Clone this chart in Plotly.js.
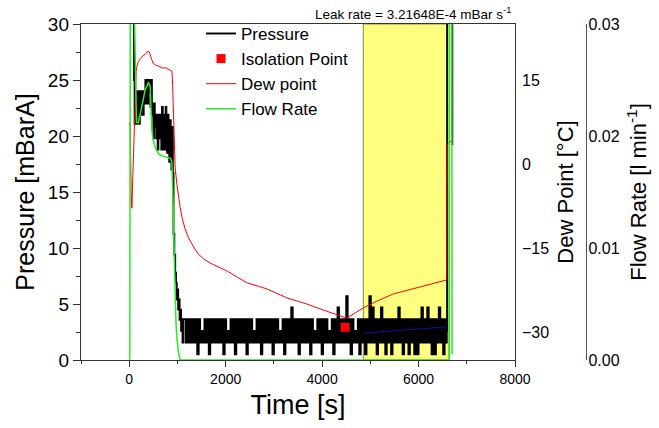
<!DOCTYPE html>
<html>
<head>
<meta charset="utf-8">
<script src="https://cdn.plot.ly/plotly-3.0.1.min.js"></script>
<style>html,body{margin:0;padding:0;background:#fff;}#chart{width:659px;height:428px;}</style>
</head>
<body>
<div id="chart"></div>
<script>
// ---- Pressure [mBarA] vs time [s] ----
const pressureTimeEarly = [0,60,100,112,125,140,160,175,190,205,220,240,255,270,285,300,320,335,350,365,380,395,410,425,440,455,470,485,500,515,530,545,560,575,590,605,620,635,650,665,680,695,710,725,740,755,770,785,800,815,830,845,860,875,890,905,918,935,953,970,985,1000,1015,1030,1045,1060,1075,1090,1105,1120];
const pressureEarly = [33,33,25,21.1,24.0,21.1,24.0,21.9,24.0,21.1,22.9,24.0,21.9,24.0,21.9,24.0,22.9,25.0,22.9,25.0,22.9,25.0,23.9,25.0,22.6,25.0,21.9,22.9,19.8,22.9,20.8,21.9,19.8,21.9,18.8,21.9,19.8,21.9,19.8,18.8,22.6,19.8,18.8,21.9,18.8,22.6,19.8,18.5,21.9,19.8,17.7,21.4,18.8,17.0,20.8,16.7,11.3,9.4,7.8,6.9,5.4,6.3,4.5,5.4,3.6,4.5,2.6,3.65,1.55,3.65];
const pressureTimeBand = [
1140,1170,1200,1230,1260,1290,1320,1350,1380,1410,
1440,1470,1500,1530,1560,1590,1620,1650,1680,1710,
1740,1770,1800,1830,1860,1890,1920,1950,1980,2010,
2040,2070,2100,2130,2160,2190,2220,2250,2280,2310,
2340,2370,2400,2430,2460,2490,2520,2550,2580,2610,
2640,2670,2700,2730,2760,2790,2820,2850,2880,2910,
2940,2970,3000,3030,3060,3090,3120,3150,3180,3210,
3240,3270,3300,3330,3360,3390,3420,3450,3480,3510,
3540,3570,3600,3630,3660,3690,3720,3750,3780,3810,
3840,3870,3900,3930,3960,3990,4020,4050,4080,4110,
4140,4170,4200,4230,4260,4290,4320,4350,4380,4410,
4440,4470,4500,4530,4560,4590,4620,4650,4680,4710,
4740,4770,4800,4830,4860,4890,4920,4950,4980,5010,
5040,5070,5100,5130,5160,5190,5220,5250,5280,5310,
5340,5370,5400,5430,5460,5490,5520,5550,5580,5610,
5640,5670,5700,5730,5760,5790,5820,5850,5880,5910,
5940,5970,6000,6030,6060,6090,6120,6150,6180,6210,
6240,6270,6300,6330,6360,6390,6420,6450,6480,6510,
6540,6570];
const pressureBand = [
3.65,1.55,3.65,1.55,3.65,1.55,3.65,1.55,3.65,0.5,
3.65,1.55,2.6,1.55,3.65,1.55,3.65,0.5,3.65,1.55,
3.65,1.55,3.65,1.55,3.65,1.55,3.65,0.5,3.65,1.55,
2.6,1.55,3.65,1.55,3.65,0.5,3.65,1.55,3.65,1.55,
3.65,1.55,3.65,0.5,3.65,1.55,3.65,1.55,2.6,1.55,
3.65,1.55,3.65,0.5,3.65,1.55,3.65,1.55,3.65,1.55,
3.65,0.5,3.65,1.55,3.65,1.55,2.6,1.55,3.65,0.5,
3.65,1.55,3.65,1.55,4.7,1.55,3.65,1.55,3.65,0.5,
3.65,1.55,3.65,1.55,3.65,1.55,3.65,0.5,3.65,1.55,
2.6,1.55,3.65,1.55,3.65,0.5,3.65,1.55,3.65,1.55,
2.6,1.55,3.65,0.5,3.65,1.55,4.7,1.55,3.65,1.55,
3.65,1.55,5.7,1.55,3.65,0.5,3.65,1.55,2.6,1.55,
3.65,0.5,3.65,1.55,3.65,0.5,3.65,1.55,5.7,1.55,
4.7,1.55,3.65,0.5,3.65,1.55,4.7,1.55,3.65,0.5,
3.65,1.55,3.65,0.5,3.65,1.55,3.65,1.55,4.7,1.55,
3.65,0.5,3.65,1.55,3.65,0.5,3.65,1.55,3.65,0.5,
3.65,0.5,3.65,1.55,4.7,1.55,3.65,1.55,4.7,1.55,
3.65,0.5,3.65,0.5,3.65,1.55,4.7,1.55,3.65,0.5,
3.65,1.55];
const pressureTimeEnd = [6585,6592,6690,6700];
const pressureEnd = [2.6,33,33,19.2];

// ---- Isolation point ----
const isolationTime = [4477];
const isolationPressure = [2.92];

// ---- Leak-rate fit line (pressure axis) ----
const fitTime = [4856,6585];
const fitPressure = [2.40,2.96];

// ---- Dew point [°C] ----
const dewTime = [0,20,40,55,75,90,110,124,145,160,190,228,280,332,370,394,415,435,465,497,540,601,650,700,750,788,840,885,900,918,935,953,988,1020,1057,1100,1160,1230,1300,1370,1435,1550,1680,2025,2439,2854,3268,3683,4097,4512,4856,5134,5478,5892,6307,6585,6595,6650,6700];
const dewPoint = [7.4,6.5,-5,-7.9,-2,2.3,10,13.6,16.5,17.5,18.3,18.8,19.3,19.6,20.0,20.2,20.0,19.3,18.7,18.0,17.7,17.5,17.3,17.1,17.2,17.0,16.8,16.6,14,7.7,3,-0.7,-3.6,-5.8,-7.8,-9.8,-11.6,-13.2,-14.3,-15.3,-16.1,-17.0,-17.7,-19.1,-21.2,-22.3,-23.9,-25.0,-26.3,-27.5,-25.7,-24.5,-23.2,-22.3,-21.4,-20.7,3.6,3.9,4.2];

// ---- Flow rate [l min^-1] ----
const flowTime = [0,12,22,95,150,190,230,270,330,400,435,455,470,500,540,590,640,700,815,860,885,900,918,935,953,970,988,1022,1057,6630,6642,6690,6694,6700];
const flowRate = [0,0,0.034,0.034,0.0212,0.0212,0.022,0.0229,0.0241,0.0248,0.0244,0.022,0.0205,0.0196,0.019,0.0185,0.0183,0.0182,0.0181,0.018,0.0176,0.016,0.0128,0.009,0.0054,0.0033,0.002,0.0006,0,0,0.034,0.034,0.001,0.0005];

// ---- Highlighted fit window ----
const windowStart = 4855, windowEnd = 6640;

const pressureTime = pressureTimeEarly.concat(pressureTimeBand, pressureTimeEnd);
const pressure = pressureEarly.concat(pressureBand, pressureEnd);

const FONT = 'Arial, "Liberation Sans", sans-serif';

const traces = [
  {x: pressureTime, y: pressure, type: 'scatter', mode: 'lines', name: 'Pressure',
   line: {color: '#000000', width: 1.9, shape: 'hv', simplify: false}, xaxis: 'x', yaxis: 'y'},
  {x: fitTime, y: fitPressure, type: 'scatter', mode: 'lines', showlegend: false,
   line: {color: '#1010a0', width: 1}, xaxis: 'x', yaxis: 'y'},
  {x: isolationTime, y: isolationPressure, type: 'scatter', mode: 'markers', name: 'Isolation Point',
   marker: {symbol: 'square', color: '#ff0000', size: 9}, xaxis: 'x', yaxis: 'y'},
  {x: dewTime, y: dewPoint, type: 'scatter', mode: 'lines', name: 'Dew point',
   line: {color: '#ff0000', width: 1}, xaxis: 'x', yaxis: 'y2'},
  {x: flowTime, y: flowRate, type: 'scatter', mode: 'lines', name: 'Flow Rate',
   line: {color: '#22ee22', width: 1.5}, xaxis: 'x', yaxis: 'y3'}
];

const plotW = 659 - 81 - 10;
const layout = {
  width: 659, height: 428,
  margin: {l: 81, r: 10, t: 24, b: 68},
  paper_bgcolor: '#ffffff', plot_bgcolor: '#ffffff',
  font: {family: FONT, color: '#000'},
  showlegend: true,
  legend: {x: (201 - 81) / plotW, xanchor: 'left', y: 1.024, yanchor: 'top',
           bgcolor: 'rgba(0,0,0,0)', font: {size: 17, family: FONT}, tracegroupgap: 0},
  xaxis: {domain: [0, 434 / plotW], range: [-1000, 8000], tick0: 0, dtick: 2000,
          ticks: 'outside', ticklen: 6, tickwidth: 1, tickcolor: '#333',
          minor: {dtick: 1000, ticks: 'outside', ticklen: 3, tickcolor: '#333'},
          showline: true, linecolor: '#333', linewidth: 1.2, mirror: true,
          showgrid: false, zeroline: false, tickfont: {size: 14},
          title: {text: 'Time [s]', font: {size: 27}, standoff: 9}},
  yaxis: {range: [0, 30], dtick: 5, ticks: 'outside', ticklen: 7, tickcolor: '#333',
          minor: {dtick: 2.5, ticks: 'outside', ticklen: 4, tickcolor: '#333'},
          showline: true, linecolor: '#333', linewidth: 1.2, mirror: true,
          showgrid: false, zeroline: false, tickfont: {size: 19},
          title: {text: 'Pressure [mBarA]', font: {size: 25}, standoff: 6}},
  yaxis2: {overlaying: 'y', side: 'right', anchor: 'x', range: [-35, 25],
           tickvals: [-30, -15, 0, 15], ticks: '', showline: false, showgrid: false,
           zeroline: false, tickfont: {size: 16}, ticklabelstandoff: 6,
           title: {text: 'Dew Point [°C]', font: {size: 22}, standoff: 9}},
  yaxis3: {overlaying: 'y', side: 'right', anchor: 'free', position: (586 - 81) / plotW,
           range: [0, 0.03], dtick: 0.01, tickformat: '.2f', ticks: '',
           showline: true, linecolor: '#555', linewidth: 1.2, showgrid: false,
           zeroline: false, tickfont: {size: 16}, ticklabelstandoff: -2,
           title: {text: 'Flow Rate [l min<sup>-1</sup>]', font: {size: 22}, standoff: 12}},
  shapes: [{type: 'rect', xref: 'x', yref: 'paper', x0: windowStart, x1: windowEnd, y0: 0, y1: 1,
            fillcolor: '#ffff80', line: {color: '#8a8a30', width: 1}, layer: 'below'}],
  annotations: [{xref: 'paper', yref: 'paper', x: 432 / plotW, y: 1, xanchor: 'right', yanchor: 'bottom',
                 text: 'Leak rate = 3.21648E-4 mBar s<sup>-1</sup>', showarrow: false,
                 font: {size: 13.5}, yshift: 0}]
};

Plotly.newPlot('chart', traces, layout, {staticPlot: true, displayModeBar: false});
</script>
</body>
</html>
